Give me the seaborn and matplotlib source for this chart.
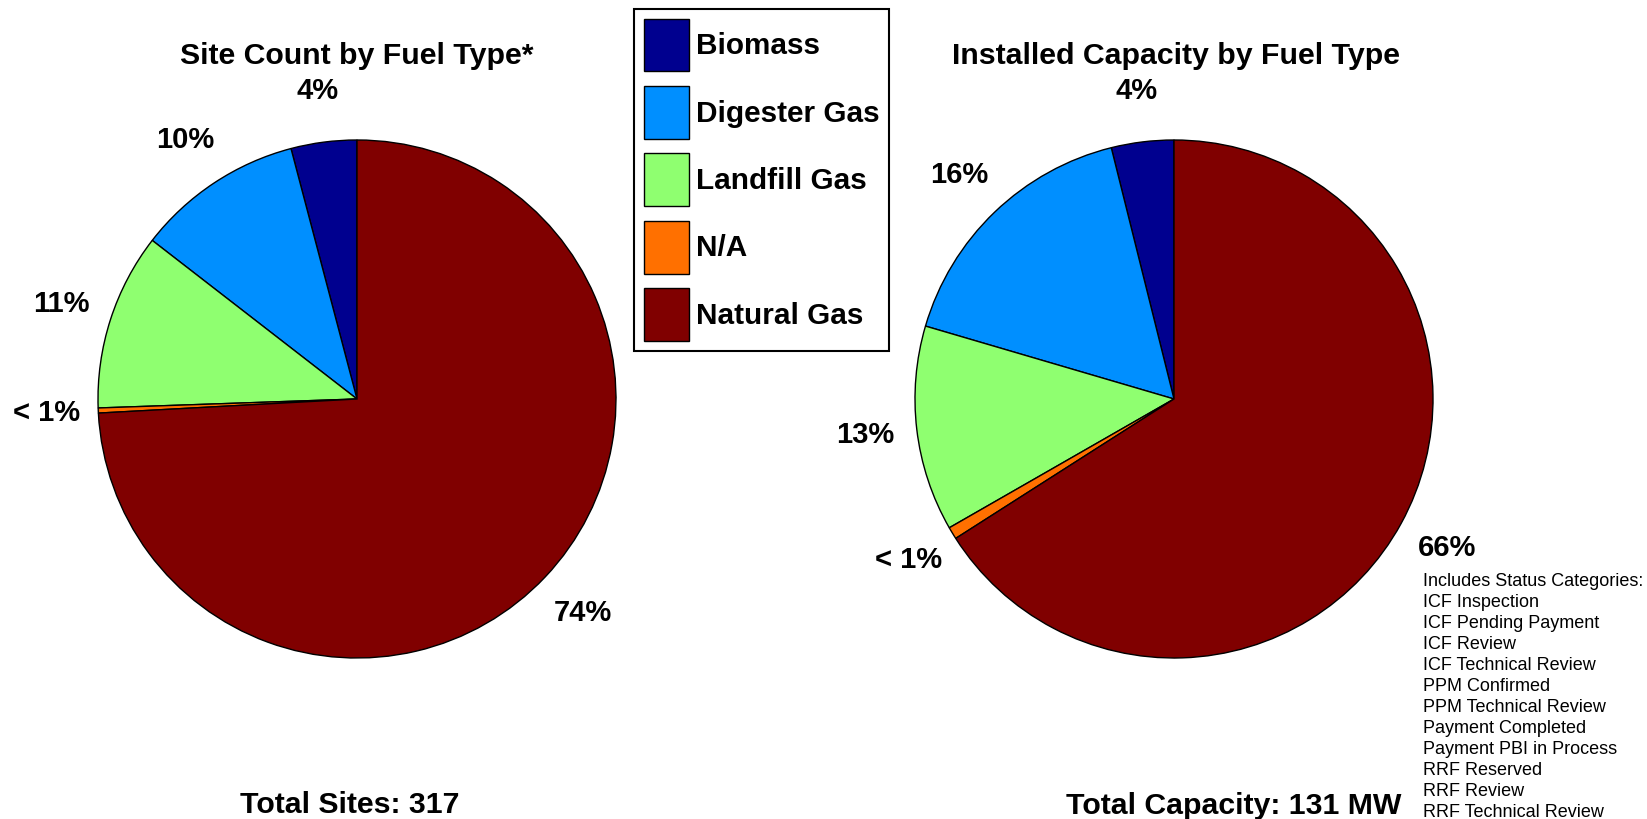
import matplotlib
matplotlib.use("Agg")
import matplotlib.pyplot as plt
import seaborn as sns

# ---- data ----
fuel_types = ["Biomass", "Digester Gas", "Landfill Gas", "N/A", "Natural Gas"]
site_counts = [13, 33, 35, 1, 235]            # total 317 sites
capacity_mw = [5.1, 21.7, 16.8, 1.0, 86.4]    # total 131 MW
site_labels = ["4%", "10%", "11%", "< 1%", "74%"]
cap_labels = ["4%", "16%", "13%", "< 1%", "66%"]
colors = ["#00008F", "#008FFF", "#8FFF70", "#FF7000", "#800000"]
status_lines = [
    "Includes Status Categories:",
    "ICF Inspection",
    "ICF Pending Payment",
    "ICF Review",
    "ICF Technical Review",
    "PPM Confirmed",
    "PPM Technical Review",
    "Payment Completed",
    "Payment PBI in Process",
    "RRF Reserved",
    "RRF Review",
    "RRF Technical Review",
]

sns.set_theme(style="white")
plt.rcParams["font.family"] = ["Liberation Sans", "DejaVu Sans"]
plt.rcParams["text.color"] = "black"

W, H = 1647, 819
fig = plt.figure(figsize=(W / 100, H / 100), dpi=100)
fig.patch.set_facecolor("white")

R_PX = 259
L = 1.3
side = 2 * L * R_PX


def pie_axes(cx, cy):
    ax = fig.add_axes([(cx - side / 2) / W, 1 - (cy + side / 2) / H, side / W, side / H])
    return ax


def finish(ax):
    ax.set_xlim(-L, L)
    ax.set_ylim(-L, L)
    ax.set_aspect("equal")
    ax.axis("off")


FS = 21
FS_T = 21.8

ax1 = pie_axes(357, 399)
wedges1, texts1 = ax1.pie(site_counts, colors=colors, startangle=90, counterclock=True,
                          labels=site_labels, labeldistance=1.2,
                          wedgeprops=dict(edgecolor="black", linewidth=1.0),
                          textprops=dict(fontsize=FS, fontweight="bold", va="center"))
for t in texts1:
    t.set_ha("center")
finish(ax1)

ax2 = pie_axes(1174, 399)
wedges2, texts2 = ax2.pie(capacity_mw, colors=colors, startangle=90, counterclock=True,
                          labels=cap_labels, labeldistance=1.2,
                          wedgeprops=dict(edgecolor="black", linewidth=1.0),
                          textprops=dict(fontsize=FS, fontweight="bold", va="center"))
for t in texts2:
    t.set_ha("center")
finish(ax2)

fig.text(357 / W, 1 - 56 / H, "Site Count by Fuel Type*", ha="center", va="center",
         fontsize=FS_T, fontweight="bold")
fig.text(1176 / W, 1 - 56 / H, "Installed Capacity by Fuel Type", ha="center", va="center",
         fontsize=FS_T, fontweight="bold")
fig.text(350 / W, 1 - 805 / H, "Total Sites: 317", ha="center", va="center",
         fontsize=FS_T, fontweight="bold")
fig.text(1234 / W, 1 - 806 / H, "Total Capacity: 131 MW", ha="center", va="center",
         fontsize=FS_T, fontweight="bold")

fig.text(1423 / W, 1 - 573 / H, "\n".join(status_lines), ha="left", va="top",
         fontsize=13, linespacing=1.31)

leg = fig.legend(wedges1, fuel_types, loc="upper left", bbox_to_anchor=(634 / W, 1 - 9 / H),
                 frameon=True, fancybox=False, framealpha=1, edgecolor="black",
                 prop=dict(size=21.4, weight="bold"), handlelength=1.54, handleheight=2.36,
                 labelspacing=0.49, handletextpad=0.22, borderpad=0.32, borderaxespad=0)
leg.get_frame().set_linewidth(1.5)

fig.savefig("out.png", dpi=100)
